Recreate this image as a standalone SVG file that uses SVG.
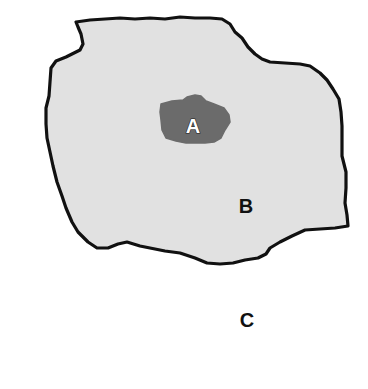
<svg xmlns="http://www.w3.org/2000/svg" width="368" height="389" viewBox="0 0 368 389">
<style>
.lbl{font-family:"Liberation Sans",Arial,sans-serif;font-weight:bold;font-size:20px;text-anchor:middle}
</style>
<rect width="368" height="389" fill="#ffffff"/>
<g id="B-region">
<path d="M76,22 L90,20 L105,19 L120,18 L135,19 L150,18 L165,19 L180,17 L195,18 L210,18 L222,19 L230,24 L235,32 L242,38 L248,47 L255,54 L262,59 L270,62 L285,63 L300,64 L310,66 L320,73 L327,80 L333,89 L339,99 L341,112 L342,126 L342,140 L342,156 L346,172 L346,188 L345,203 L347,215 L348,226 L335,228 L320,229 L305,230 L292,236 L280,242 L270,248 L266,254 L258,258 L245,260 L233,263 L220,264 L207,263 L195,258 L180,253 L165,251 L150,248 L140,246 L127,242 L118,244 L108,248 L97,248 L88,242 L78,232 L72,222 L66,208 L62,196 L57,182 L53,166 L50,152 L47,138 L46,124 L46,108 L49,96 L50,82 L51,68 L56,61 L66,57 L80,50 L83,44 L81,34 L78,27 Z" fill="#e1e1e1" stroke="#111111" stroke-width="3.2" stroke-linejoin="round"/>
<text class="lbl" x="246" y="213" fill="#111111">B</text>
</g>
<g id="A-region">
<path d="M161,104 L172,101 L183,100 L187,97 L195,95 L201,96 L206,101 L214,104 L224,108 L229,115 L230,122 L225,130 L221,138 L214,142 L205,143 L196,143 L186,143 L176,141 L166,138 L162,130 L161,120 L160,112 Z" fill="#6b6b6b" stroke="#6b6b6b" stroke-width="1.5" stroke-linejoin="round"/>
<text class="lbl" x="193" y="133" fill="#ffffff" stroke="#222222" stroke-width="1.2" paint-order="stroke">A</text>
</g>
<g id="C-region">
<text class="lbl" x="247" y="327" fill="#111111">C</text>
</g>
</svg>
